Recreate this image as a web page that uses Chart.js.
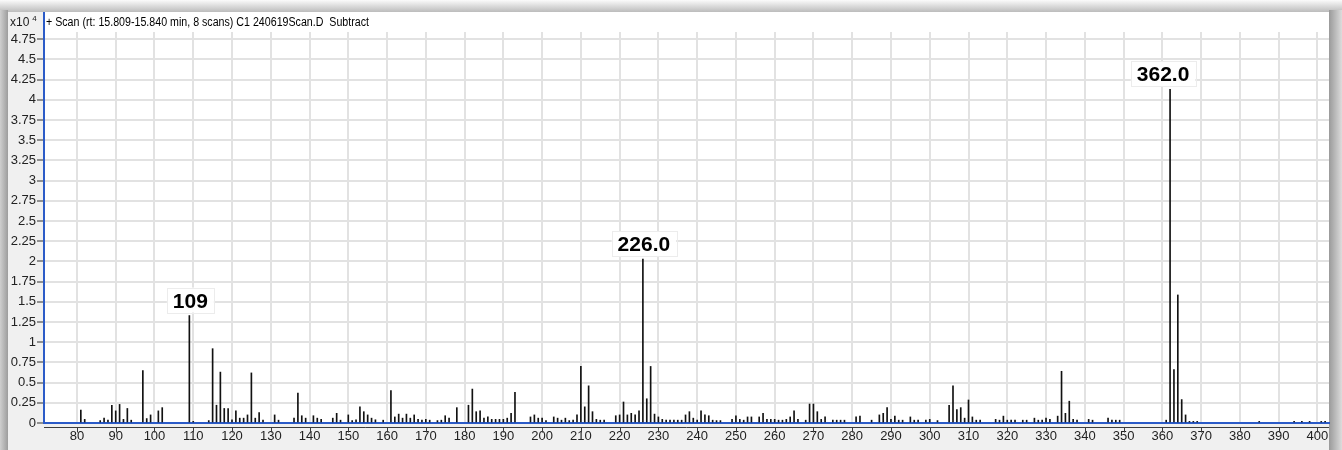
<!DOCTYPE html>
<html>
<head>
<meta charset="utf-8">
<title>Mass spectrum</title>
<script src="https://cdn.jsdelivr.net/npm/chart.js@4.4.1/dist/chart.umd.min.js"></script>
<style>
  html, body { margin: 0; padding: 0; background: #ffffff; overflow: hidden; }
  #wrap { width: 1342px; height: 450px; position: relative; }
  canvas { display: block; }
</style>
</head>
<body>
<div id="wrap"><canvas id="spectrum" width="1342" height="450"></canvas></div>
<script>
// Spectrum header text and the abundance exponent shown beside the y axis
const scanTitle = '+ Scan (rt: 15.809-15.840 min, 8 scans) C1 240619Scan.D  Subtract';
const exponentBase = 'x10';
const exponentPower = '4';

// m/z of every ion in the subtracted scan
const massValues = [
  81, 82, 86, 87, 88, 89, 90, 91, 92, 93, 94, 97, 98, 99, 101, 102,
  109, 110, 114, 115, 116, 117, 118, 119, 120, 121, 122, 123, 124, 125, 126, 127, 128,
  131, 132, 136, 137, 138, 139, 141, 142, 143, 146, 147, 148, 150,
  151, 152, 153, 154, 155, 156, 157, 159, 161, 162, 163, 164, 165, 166, 167, 168, 169, 170,
  171, 173, 174, 175, 176, 178, 181, 182, 183, 184, 185, 186, 187, 188, 189, 190,
  191, 192, 193, 197, 198, 199, 200, 201, 203, 204, 205, 206, 207, 208, 209, 210,
  211, 212, 213, 214, 215, 216, 219, 220, 221, 222, 223, 224, 225, 226, 227, 228, 229, 230,
  231, 232, 233, 234, 235, 236, 237, 238, 239, 240, 241, 242, 243, 244, 245, 246, 249, 250,
  251, 252, 253, 254, 256, 257, 258, 259, 260, 261, 262, 263, 264, 265, 266, 268, 269, 270,
  271, 272, 273, 275, 276, 277, 278, 281, 282, 285, 287, 288, 289, 290,
  291, 292, 293, 295, 296, 297, 299, 300, 302, 305, 306, 307, 308, 309, 310,
  311, 312, 313, 317, 318, 319, 320, 321, 322, 324, 325, 327, 328, 329, 330,
  331, 333, 334, 335, 336, 337, 338, 341, 342, 346, 347, 348, 349,
  361, 362, 363, 364, 365, 366, 367, 368, 369, 385, 394, 396, 398, 401, 402
];

// Abundance of each ion, in units of 10^4 counts
const abundance = [
  0.16, 0.045, 0.03, 0.06, 0.035, 0.22, 0.15, 0.23, 0.045, 0.18, 0.035, 0.65, 0.055, 0.10, 0.15, 0.19,
  1.33, 0.02, 0.03, 0.92, 0.22, 0.63, 0.18, 0.18, 0.04, 0.15, 0.06, 0.06, 0.10, 0.62, 0.06, 0.13, 0.035,
  0.10, 0.035, 0.06, 0.37, 0.09, 0.06, 0.09, 0.06, 0.045, 0.06, 0.12, 0.035, 0.10,
  0.03, 0.04, 0.20, 0.14, 0.10, 0.06, 0.04, 0.035, 0.40, 0.075, 0.11, 0.06, 0.11, 0.06, 0.10, 0.045, 0.035, 0.045,
  0.035, 0.03, 0.035, 0.09, 0.06, 0.19, 0.22, 0.42, 0.14, 0.15, 0.06, 0.075, 0.045, 0.045, 0.045, 0.045,
  0.06, 0.12, 0.38, 0.075, 0.10, 0.06, 0.06, 0.03, 0.075, 0.06, 0.035, 0.06, 0.03, 0.035, 0.10, 0.70,
  0.20, 0.46, 0.14, 0.045, 0.035, 0.035, 0.09, 0.10, 0.26, 0.10, 0.12, 0.10, 0.15, 2.03, 0.30, 0.70, 0.11, 0.075,
  0.045, 0.035, 0.035, 0.035, 0.035, 0.035, 0.10, 0.14, 0.06, 0.035, 0.15, 0.10, 0.09, 0.035, 0.03, 0.03, 0.045, 0.09,
  0.045, 0.035, 0.075, 0.075, 0.075, 0.12, 0.045, 0.045, 0.045, 0.035, 0.035, 0.045, 0.075, 0.15, 0.045, 0.035, 0.235, 0.235,
  0.14, 0.045, 0.075, 0.035, 0.035, 0.035, 0.035, 0.075, 0.085, 0.035, 0.10, 0.12, 0.19, 0.045,
  0.085, 0.035, 0.035, 0.075, 0.035, 0.035, 0.035, 0.045, 0.03, 0.22, 0.46, 0.165, 0.19, 0.06, 0.285,
  0.075, 0.035, 0.035, 0.045, 0.035, 0.085, 0.035, 0.035, 0.035, 0.035, 0.035, 0.06, 0.035, 0.035, 0.06,
  0.045, 0.085, 0.64, 0.12, 0.27, 0.045, 0.035, 0.045, 0.035, 0.06, 0.035, 0.035, 0.035,
  0.035, 4.13, 0.66, 1.585, 0.29, 0.10, 0.02, 0.02, 0.02, 0.02, 0.02, 0.02, 0.02, 0.02, 0.02
];

// Annotated peaks and the text written above them
const labelledMasses = [109, 226, 362];
const labelledTexts = ['109', '226.0', '362.0'];

// Axis ticks
const massTicks = [80, 90, 100, 110, 120, 130, 140, 150, 160, 170, 180, 190, 200, 210, 220, 230, 240,
  250, 260, 270, 280, 290, 300, 310, 320, 330, 340, 350, 360, 370, 380, 390, 400];
const massTickLabels = massTicks.map(String);
const abundanceTicks = [0, 0.25, 0.5, 0.75, 1, 1.25, 1.5, 1.75, 2, 2.25, 2.5, 2.75, 3, 3.25, 3.5, 3.75, 4, 4.25, 4.5, 4.75];
const abundanceTickLabels = ['0', '0.25', '0.5', '0.75', '1', '1.25', '1.5', '1.75', '2', '2.25', '2.5', '2.75',
  '3', '3.25', '3.5', '3.75', '4', '4.25', '4.5', '4.75'];

// Window styling
const FRAME = { left: 8, top: 12, right: 1329, bottom: 450, plotTop: 32 };
const AXIS_BLUE = '#2b5bc8';
const TICK_FONT = '"Liberation Sans Narrow", "Liberation Sans", Arial, sans-serif';

// Draws the window shadow, grey panel and the white plot/title area
const framePlugin = {
  id: 'frame',
  beforeDraw(chart) {
    const { ctx, width, height, chartArea } = chart;
    ctx.save();
    ctx.fillStyle = '#ffffff';
    ctx.fillRect(0, 0, width, height);

    let g = ctx.createLinearGradient(0, 0, 0, FRAME.top);
    g.addColorStop(0, '#fbfbfb');
    g.addColorStop(1, '#bcbcbc');
    ctx.fillStyle = g;
    ctx.fillRect(0, 0, width, FRAME.top);

    g = ctx.createLinearGradient(0, 0, FRAME.left, 0);
    g.addColorStop(0, '#cfcfcf');
    g.addColorStop(1, '#9d9d9d');
    ctx.fillStyle = g;
    ctx.fillRect(0, FRAME.top - 2, FRAME.left, height);

    g = ctx.createLinearGradient(FRAME.right, 0, width, 0);
    g.addColorStop(0, '#9a9a9a');
    g.addColorStop(1, '#dcdcdc');
    ctx.fillStyle = g;
    ctx.fillRect(FRAME.right, FRAME.top - 2, width - FRAME.right, height);

    ctx.fillStyle = '#f0f0f0';
    ctx.fillRect(FRAME.left, FRAME.top, FRAME.right - FRAME.left, height - FRAME.top);

    ctx.fillStyle = '#ffffff';
    ctx.fillRect(chartArea.left - 1, FRAME.top, chartArea.right - chartArea.left + 1, chartArea.bottom - FRAME.top);
    ctx.restore();
  },
  afterDraw(chart) {
    const { ctx, chartArea } = chart;
    const xs = chart.scales.x;
    ctx.save();
    // axis line continues up through the title strip
    ctx.fillStyle = AXIS_BLUE;
    ctx.fillRect(chartArea.left - 1, FRAME.top, 2, chartArea.top - FRAME.top + 1);

    // secondary baseline with tick marks under the blue x axis
    const yb = chartArea.bottom + 4.5;
    ctx.strokeStyle = '#3c3c3c';
    ctx.lineWidth = 1;
    ctx.beginPath();
    ctx.moveTo(chartArea.left, yb);
    ctx.lineTo(chartArea.right, yb);
    xs.ticks.forEach(t => {
      const px = Math.round(xs.getPixelForValue(t.value)) + 0.5;
      ctx.moveTo(px, yb);
      ctx.lineTo(px, yb + 5);
    });
    ctx.stroke();

    // spectrum header
    ctx.fillStyle = '#000000';
    ctx.textBaseline = 'alphabetic';
    ctx.textAlign = 'left';
    ctx.font = '12px ' + TICK_FONT;
    const tw = ctx.measureText(scanTitle).width;
    const target = 323;
    ctx.save();
    ctx.translate(chartArea.left + 2, 25.5);
    ctx.scale(target / tw, 1);
    ctx.fillText(scanTitle, 0, 0);
    ctx.restore();

    // abundance exponent
    ctx.fillStyle = '#1a1a1a';
    ctx.font = '12px ' + TICK_FONT;
    ctx.fillText(exponentBase, 10, 26);
    const bw = ctx.measureText(exponentBase).width;
    ctx.font = '8px ' + TICK_FONT;
    ctx.fillText(exponentPower, 10 + bw + 3, 21);
    ctx.restore();
  }
};

// Boxed m/z annotations placed above their peaks
const peakLabelPlugin = {
  id: 'peakLabels',
  afterDatasetsDraw(chart) {
    const { ctx } = chart;
    const meta = chart.getDatasetMeta(0);
    ctx.save();
    ctx.font = 'bold 21px "Liberation Sans", Arial, sans-serif';
    ctx.textAlign = 'center';
    ctx.textBaseline = 'alphabetic';
    labelledMasses.forEach((m, k) => {
      const idx = massValues.indexOf(m);
      const el = meta.data[idx];
      if (!el) return;
      const text = labelledTexts[k];
      const w = ctx.measureText(text).width;
      const cx = el.x + (k === 2 ? -7 : 1);
      const base = el.y - 8;
      ctx.fillStyle = 'rgba(255,255,255,0.95)';
      ctx.fillRect(cx - w / 2 - 6, base - 20, w + 12, 25);
      ctx.strokeStyle = '#ececec';
      ctx.lineWidth = 1;
      ctx.strokeRect(Math.round(cx - w / 2 - 6) + 0.5, Math.round(base - 20) + 0.5, Math.round(w + 12), 25);
      ctx.fillStyle = '#000000';
      ctx.fillText(text, cx, base);
    });
    ctx.restore();
  }
};

new Chart(document.getElementById('spectrum'), {
  type: 'bar',
  data: {
    datasets: [{
      data: massValues.map((m, i) => ({ x: m, y: abundance[i] })),
      backgroundColor: '#111111',
      borderWidth: 0,
      barThickness: 1,
      grouped: false
    }]
  },
  options: {
    responsive: false,
    animation: false,
    events: [],
    layout: { padding: { left: FRAME.left, top: FRAME.plotTop, right: 1342 - FRAME.right, bottom: 5 } },
    plugins: { legend: { display: false }, tooltip: { enabled: false }, title: { display: false } },
    scales: {
      x: {
        type: 'linear',
        offset: false,
        min: 71.5,
        max: 403,
        afterBuildTicks: s => { s.ticks = massTicks.map(v => ({ value: v })); },
        afterFit: s => { s.height = 22; },
        ticks: {
          autoSkip: false,
          maxRotation: 0,
          padding: 6,
          color: '#222222',
          font: { family: TICK_FONT, size: 13 },
          callback: (v, i) => massTickLabels[i]
        },
        grid: { color: '#e2e2e2', lineWidth: 2, drawTicks: false, offset: false },
        border: { color: AXIS_BLUE, width: 2 }
      },
      y: {
        type: 'linear',
        min: 0,
        max: 4.84,
        afterBuildTicks: s => { s.ticks = abundanceTicks.map(v => ({ value: v })); },
        afterFit: s => { s.width = 36; },
        ticks: {
          padding: 1,
          color: '#222222',
          font: { family: TICK_FONT, size: 13 },
          callback: (v, i) => abundanceTickLabels[i]
        },
        grid: { color: '#e2e2e2', lineWidth: 2, tickLength: 7, tickColor: '#333333', tickWidth: 1 },
        border: { color: AXIS_BLUE, width: 2 }
      }
    }
  },
  plugins: [framePlugin, peakLabelPlugin]
});
</script>
</body>
</html>
